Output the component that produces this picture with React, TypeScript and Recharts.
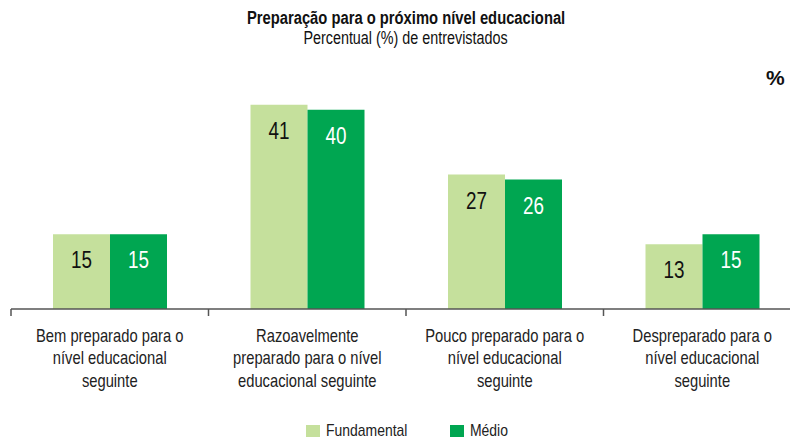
import React from "react";
import { BarChart, Bar, XAxis, YAxis, LabelList } from "recharts";

const categories = [
  "Bem preparado para o\nnível educacional\nseguinte",
  "Razoavelmente\npreparado para o nível\neducacional seguinte",
  "Pouco preparado para o\nnível educacional\nseguinte",
  "Despreparado para o\nnível educacional\nseguinte",
];
const fundamental = [15, 41, 27, 13];
const medio = [15, 40, 26, 15];

const LIGHT = "#c5e09c";
const DARK = "#00a651";
const FONT = "'Liberation Sans', Arial, sans-serif";
const SQUEEZE = 0.82;

const CHART_W = 802;
const MARGIN_L = 11;
const MARGIN_R = 1;
const HALF_BAND = (CHART_W - MARGIN_L - MARGIN_R) / categories.length / 2;

const data = categories.map((c, i) => ({
  name: c,
  fundamental: fundamental[i],
  medio: medio[i],
}));

// y handed to the tick sits tickSize + tickMargin below the axis line
const CategoryTick = (props: any) => {
  const { x, y, payload, index } = props;
  const lines = String(payload.value).split("\n");
  const left = x - HALF_BAND;
  const right = x + HALF_BAND;
  const axisY = y - 8;
  return (
    <g>
      <line x1={left} x2={left} y1={axisY} y2={axisY + 7} stroke="#555" strokeWidth={1.5} />
      {index === categories.length - 1 && (
        <line x1={right} x2={right} y1={axisY} y2={axisY + 7} stroke="#555" strokeWidth={1.5} />
      )}
      <g transform={`translate(${x},${axisY}) scale(${SQUEEZE},1)`}>
        <text x={0} y={0} textAnchor="middle" fontFamily={FONT} fontSize={18} fill="#222">
          {lines.map((l, i) => (
            <tspan key={i} x={0} dy={i === 0 ? 33 : 22.5}>
              {l}
            </tspan>
          ))}
        </text>
      </g>
    </g>
  );
};

const makeBarLabel = (color: string) => (props: any) => {
  const { x, y, width, value } = props;
  const cx = Number(x) + Number(width) / 2;
  return (
    <g transform={`translate(${cx},${Number(y) + 34}) scale(${SQUEEZE},1)`}>
      <text x={0} y={0} textAnchor="middle" fontFamily={FONT} fontSize={23} fill={color}>
        {value}
      </text>
    </g>
  );
};

const narrow: React.CSSProperties = {
  display: "inline-block",
  transform: `scaleX(${SQUEEZE})`,
  transformOrigin: "center",
  whiteSpace: "nowrap",
};

const legendItems = [
  { label: "Fundamental", color: LIGHT, left: 306 },
  { label: "Médio", color: DARK, left: 450 },
];

export default function App() {
  return (
    <div style={{ position: "relative", width: 790, height: 441, overflow: "hidden", background: "#fff" }}>
      <style>{`body{margin:0}`}</style>
      <div
        style={{
          position: "absolute",
          top: 8,
          left: 0,
          width: 812,
          textAlign: "center",
          fontFamily: FONT,
          color: "#111",
          lineHeight: "20px",
        }}
      >
        <div style={{ fontWeight: "bold", fontSize: 18 }}>
          <span style={narrow}>Preparação para o próximo nível educacional</span>
        </div>
        <div style={{ fontSize: 17.5 }}>
          <span style={narrow}>Percentual (%) de entrevistados</span>
        </div>
      </div>
      <div
        style={{
          position: "absolute",
          top: 66,
          left: 766,
          fontFamily: FONT,
          fontWeight: "bold",
          fontSize: 21,
          color: "#111",
        }}
      >
        %
      </div>
      <div style={{ position: "absolute", top: 0, left: 0 }}>
        <BarChart
          width={CHART_W}
          height={441}
          data={data}
          margin={{ top: 60, right: MARGIN_R, left: MARGIN_L, bottom: 32 }}
          barCategoryGap={42}
          barGap={0}
        >
          <XAxis
            dataKey="name"
            interval={0}
            tick={<CategoryTick />}
            tickLine={false}
            axisLine={{ stroke: "#555", strokeWidth: 1.5 }}
            height={100}
          />
          <YAxis hide domain={[0, 50]} />
          <Bar dataKey="fundamental" name="Fundamental" fill={LIGHT} isAnimationActive={false}>
            <LabelList dataKey="fundamental" content={makeBarLabel("#111")} />
          </Bar>
          <Bar dataKey="medio" name="Médio" fill={DARK} isAnimationActive={false}>
            <LabelList dataKey="medio" content={makeBarLabel("#fff")} />
          </Bar>
        </BarChart>
      </div>
      {legendItems.map((it) => (
        <div
          key={it.label}
          style={{
            position: "absolute",
            top: 421,
            left: it.left,
            display: "flex",
            alignItems: "center",
            fontFamily: FONT,
            fontSize: 17,
            lineHeight: "19px",
            color: "#222",
            height: 19,
          }}
        >
          <span style={{ width: 14, height: 12, background: it.color, display: "inline-block", marginRight: 6 }} />
          <span style={{ ...narrow, transformOrigin: "left center" }}>{it.label}</span>
        </div>
      ))}
    </div>
  );
}
